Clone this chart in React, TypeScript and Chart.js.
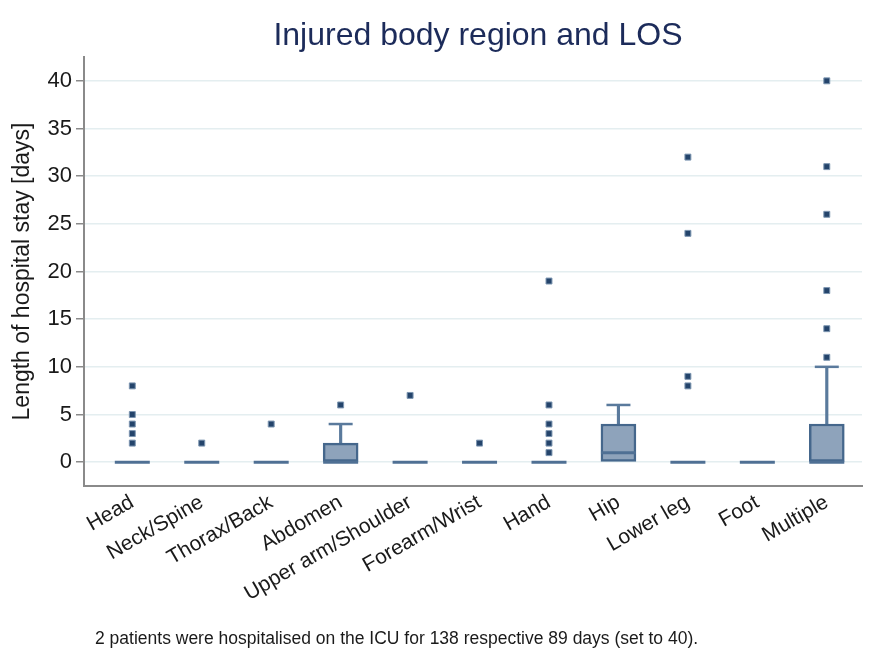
import { useEffect, useRef } from 'react';
import { Chart, registerables } from 'chart.js';

Chart.register(...registerables);

const categories = [
  'Head',
  'Neck/Spine',
  'Thorax/Back',
  'Abdomen',
  'Upper arm/Shoulder',
  'Forearm/Wrist',
  'Hand',
  'Hip',
  'Lower leg',
  'Foot',
  'Multiple',
];
const lowerQuartile = [0, 0, 0, 0, 0, 0, 0, 0, 0, 0, 0];
const medians = [0, 0, 0, 0, 0, 0, 0, 1, 0, 0, 0];
const upperQuartile = [0, 0, 0, 2, 0, 0, 0, 4, 0, 0, 4];
const upperWhisker = [0, 0, 0, 4, 0, 0, 0, 6, 0, 0, 10];
const outliers: number[][] = [
  [2, 3, 4, 5, 8],
  [2],
  [4],
  [6],
  [7],
  [2],
  [1, 2, 3, 4, 6, 19],
  [],
  [8, 9, 24, 32],
  [],
  [11, 14, 18, 26, 31, 40],
];
const yTicks = [0, 5, 10, 15, 20, 25, 30, 35, 40];

const TITLE = 'Injured body region and LOS';
const Y_TITLE = 'Length of hospital stay [days]';
const NOTE = '2 patients were hospitalised on the ICU for 138 respective 89 days (set to 40).';

const FONT = '"Liberation Sans", Arial, Helvetica, sans-serif';
const AXIS = '#8a8a8a';
const TEXT = '#1a1a1a';

export default function App() {
  const ref = useRef<HTMLCanvasElement>(null);

  useEffect(() => {
    const pos = categories.map((_, i) => i + 1);
    const boxes = pos
      .filter((_, i) => upperQuartile[i] > lowerQuartile[i])
      .map((x) => ({ x, y: [lowerQuartile[x - 1], upperQuartile[x - 1]] }));
    const stems = pos
      .filter((_, i) => upperWhisker[i] > upperQuartile[i])
      .map((x) => ({ x, y: [upperQuartile[x - 1], upperWhisker[x - 1]] }));
    const caps = pos
      .filter((_, i) => upperWhisker[i] > upperQuartile[i])
      .map((x) => ({ x, y: upperWhisker[x - 1] }));
    const meds = pos.map((x) => ({ x, y: medians[x - 1] }));
    const outs = pos.flatMap((x) => outliers[x - 1].map((v) => ({ x, y: v })));

    const chart = new Chart(ref.current as HTMLCanvasElement, {
      type: 'bar',
      data: {
        datasets: [
          {
            type: 'scatter',
            data: outs,
            pointStyle: 'rect',
            pointRadius: 4.2,
            backgroundColor: '#24446b',
            borderColor: '#7d96b1',
            borderWidth: 1,
          } as any,
          {
            type: 'scatter',
            data: meds,
            pointStyle: 'line',
            pointRadius: 17.5,
            borderColor: '#4f7094',
            borderWidth: 3,
          } as any,
          {
            type: 'scatter',
            data: caps,
            pointStyle: 'line',
            pointRadius: 12,
            borderColor: '#5a7a9c',
            borderWidth: 2.5,
          } as any,
          {
            type: 'bar',
            data: boxes,
            grouped: false,
            barThickness: 35,
            backgroundColor: '#8ea3bb',
            borderColor: '#45678c',
            borderWidth: 2.5,
            borderSkipped: false,
          } as any,
          {
            type: 'bar',
            data: stems,
            grouped: false,
            barThickness: 2.5,
            backgroundColor: '#5a7a9c',
            borderWidth: 0,
          } as any,
        ],
      },
      options: {
        responsive: false,
        animation: false,
        devicePixelRatio: 1,
        layout: { autoPadding: false, padding: { top: 57, right: 14, left: 0, bottom: 0 } },
        plugins: {
          legend: { display: false },
          tooltip: { enabled: false },
          title: { display: false },
        },
        scales: {
          x: {
            type: 'linear',
            min: 0.3045,
            max: 11.507,
            offset: false,
            grid: { display: false, drawTicks: false, tickLength: 0, offset: false },
            border: { display: true, color: AXIS, width: 2 },
            afterBuildTicks: (s: any) => {
              s.ticks = categories.map((_, i) => ({ value: i + 1 }));
            },
            afterFit: (s: any) => {
              s.height = 163;
              s.paddingLeft = 0;
              s.paddingRight = 0;
            },
            ticks: {
              autoSkip: false,
              minRotation: 30,
              maxRotation: 30,
              padding: 4,
              color: TEXT,
              font: { family: FONT, size: 21 },
              callback: (v: any) => categories[Math.round(Number(v)) - 1] ?? '',
            },
          },
          y: {
            type: 'linear',
            min: -2.5,
            max: 42.5,
            afterBuildTicks: (s: any) => {
              s.ticks = yTicks.map((v) => ({ value: v }));
            },
            afterFit: (s: any) => {
              s.width = 84;
              s.paddingTop = 0;
              s.paddingBottom = 0;
            },
            grid: {
              color: '#e4eef0',
              lineWidth: 1.5,
              tickColor: AXIS,
              tickLength: 8,
              tickWidth: 1.5,
            },
            border: { display: true, color: AXIS, width: 2 },
            ticks: {
              padding: 4,
              color: TEXT,
              font: { family: FONT, size: 22 },
            },
            title: {
              display: true,
              text: Y_TITLE,
              color: TEXT,
              font: { family: FONT, size: 23 },
              padding: { top: 9, bottom: 0 },
            },
          },
        },
      } as any,
    });
    return () => chart.destroy();
  }, []);

  return (
    <div style={{ position: 'absolute', left: 0, top: 0, width: 876, height: 649, background: '#fff' }}>
      <canvas ref={ref} width={876} height={649} style={{ position: 'absolute', left: 0, top: 0 }} />
      <div
        style={{
          position: 'absolute',
          left: 89,
          width: 778,
          top: 15,
          textAlign: 'center',
          fontFamily: FONT,
          fontSize: 32,
          lineHeight: '38px',
          color: '#1c2b5a',
          whiteSpace: 'nowrap',
        }}
      >
        {TITLE}
      </div>
      <div
        style={{
          position: 'absolute',
          left: 95,
          top: 628,
          fontFamily: FONT,
          fontSize: 17.5,
          lineHeight: '20px',
          color: TEXT,
          whiteSpace: 'nowrap',
        }}
      >
        {NOTE}
      </div>
    </div>
  );
}
